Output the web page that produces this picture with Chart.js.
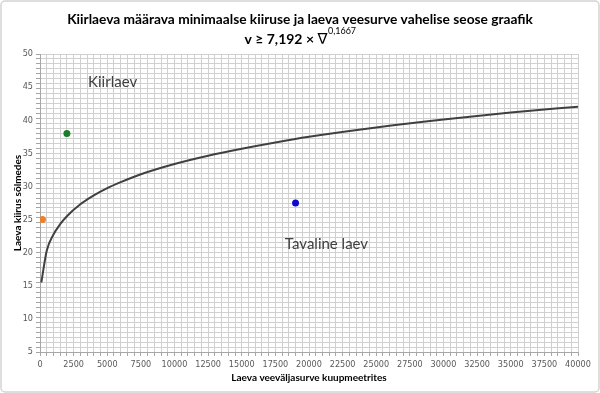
<!DOCTYPE html>
<html lang="et">
<head>
<meta charset="UTF-8">
<title>Kiirlaeva graafik</title>
<script src="https://cdn.jsdelivr.net/npm/chart.js@4"></script>
<style>
  body { margin: 0; background: #fff; }
  #wrap { width: 600px; height: 393px; }
</style>
</head>
<body>
<div id="wrap"><canvas id="chart" width="600" height="393"></canvas></div>
<script>
// curve v >= 7,192 * D^0,1667
const curveX = [100, 500, 1000, 1500, 2000, 3000, 4000, 5000, 6000, 7500, 10000, 12500, 15000, 17500, 20000, 25000, 30000, 35000, 40000];
const curveV = [15.5, 20.3, 22.75, 24.3, 25.5, 27.3, 28.65, 29.75, 30.65, 31.85, 33.4, 34.65, 35.7, 36.65, 37.5, 38.9, 40.1, 41.15, 42.05];

// the three single ships
const shipX = [180, 2000, 19000];
const shipV = [25, 38, 27.5];

// axis ticks
const xLabelStep = 2500;
const xGridStep = 500;
const yLabels = [5, 10, 15, 20, 25, 30, 35, 40, 45, 50];
const yGridStep = 0.75;

const title1 = 'Kiirlaeva määrava minimaalse kiiruse ja laeva veesurve vahelise seose graafik';
const title2 = 'v ≥ 7,192 × ';
const title2sym = '∇';
const title2exp = '0,1667';
const yTitle = 'Laeva kiirus sõlmedes';
const xTitle = 'Laeva veeväljasurve kuupmeetrites';
const regionNames = ['Kiirlaev', 'Tavaline laev'];
const regionX = [5400, 21300];
const regionV = [45.8, 21.3];

const shipColors = ['#ee7d2c', '#1a7f2a', '#0a0ad0'];
const gridColor = '#d0d0d0';
const tickFont = '"Liberation Sans Narrow", "Arial Narrow", "DejaVu Sans Condensed", sans-serif';
const textFont = 'Lato, "Open Sans", sans-serif';

function onYGrid(v) {
  const k = (v - yLabels[0]) / yGridStep;
  return Math.abs(k - Math.round(k)) < 1e-6;
}

// fit a string to a width by font size
function fitFont(ctx, text, weight, family, width) {
  ctx.font = weight + ' 20px ' + family;
  const s = 20 * width / ctx.measureText(text).width;
  return weight + ' ' + s.toFixed(2) + 'px ' + family;
}

const decorations = {
  id: 'decorations',
  beforeDraw(chart) {
    const ctx = chart.ctx;
    ctx.save();
    ctx.fillStyle = '#fff';
    ctx.fillRect(0, 0, chart.width, chart.height);
    ctx.strokeStyle = '#d4d4d4';
    ctx.lineWidth = 1.5;
    ctx.beginPath();
    ctx.roundRect(1, 1, chart.width - 2, chart.height - 2, 4);
    ctx.stroke();
    ctx.restore();
  },
  afterDatasetsDraw(chart) {
    const ctx = chart.ctx;
    const xs = chart.scales.x, ys = chart.scales.y;
    ctx.save();
    ctx.textBaseline = 'alphabetic';
    ctx.fillStyle = '#000';

    // title line 1
    ctx.textAlign = 'center';
    ctx.font = fitFont(ctx, title1, 'bold', textFont, 466);
    ctx.fillText(title1, 300, 23.5);

    // title line 2 with exponent
    ctx.textAlign = 'left';
    ctx.font = 'bold 14px ' + textFont;
    const w1 = ctx.measureText(title2).width;
    ctx.font = '15px "DejaVu Sans", sans-serif';
    const w2 = ctx.measureText(title2sym).width;
    ctx.font = '9px ' + textFont;
    const w3 = ctx.measureText(title2exp).width;
    let x0 = 300 - (w1 + w2 + w3) / 2;
    ctx.font = 'bold 14px ' + textFont;
    ctx.fillText(title2, x0, 44);
    ctx.font = '15px "DejaVu Sans", sans-serif';
    ctx.fillText(title2sym, x0 + w1, 44);
    ctx.font = '9px ' + textFont;
    ctx.fillText(title2exp, x0 + w1 + w2 + 0.5, 34);

    // axis titles
    ctx.textAlign = 'center';
    ctx.textBaseline = 'middle';
    ctx.font = 'bold 10px ' + textFont;
    ctx.fillText(xTitle, (chart.chartArea.left + chart.chartArea.right) / 2, 378);
    ctx.save();
    ctx.translate(18, (chart.chartArea.top + chart.chartArea.bottom) / 2);
    ctx.rotate(-Math.PI / 2);
    ctx.fillText(yTitle, 0, 0);
    ctx.restore();

    // region names
    ctx.fillStyle = '#404040';
    ctx.font = '15px ' + textFont;
    regionNames.forEach((name, i) => {
      ctx.fillText(name, xs.getPixelForValue(regionX[i]), ys.getPixelForValue(regionV[i]));
    });
    ctx.restore();
  }
};

const curveData = curveX.map((x, i) => ({ x: x, y: curveV[i] }));
const shipSets = shipX.map((x, i) => ({
  data: [{ x: x, y: shipV[i] }],
  backgroundColor: shipColors[i],
  borderColor: shipColors[i],
  pointRadius: 3.5,
  pointBorderWidth: 0
}));

new Chart(document.getElementById('chart'), {
  type: 'scatter',
  data: {
    datasets: [{
      data: curveData,
      showLine: true,
      borderColor: '#404040',
      borderWidth: 2,
      pointRadius: 0,
      cubicInterpolationMode: 'monotone'
    }].concat(shipSets)
  },
  options: {
    responsive: false,
    animation: false,
    devicePixelRatio: 1,
    layout: { padding: { left: 6, right: 22, top: 54, bottom: 8 } },
    plugins: { legend: { display: false }, tooltip: { enabled: false } },
    scales: {
      x: {
        type: 'linear',
        min: 0,
        max: 40000,
        afterFit: s => { s.height = 33; },
        border: { color: '#a6a6a6' },
        grid: { color: gridColor, tickLength: 4, tickColor: '#a6a6a6' },
        ticks: {
          stepSize: xGridStep,
          autoSkip: false,
          maxRotation: 0,
          padding: 3,
          color: '#595959',
          font: { family: tickFont, size: 9 },
          callback: v => (v % xLabelStep === 0 ? String(v) : '')
        }
      },
      y: {
        type: 'linear',
        min: yLabels[0],
        max: yLabels[yLabels.length - 1],
        afterFit: s => { s.width = 34; },
        afterBuildTicks: s => {
          const vals = [];
          const lo = yLabels[0], hi = yLabels[yLabels.length - 1];
          for (let k = 0; lo + k * yGridStep <= hi + 1e-6; k++) vals.push(+(lo + k * yGridStep).toFixed(3));
          yLabels.forEach(v => { if (!vals.includes(v)) vals.push(v); });
          vals.sort((a, b) => a - b);
          s.ticks = vals.map(v => ({ value: v }));
        },
        border: { color: '#a6a6a6' },
        grid: {
          color: c => (onYGrid(c.tick.value) ? gridColor : 'transparent'),
          tickColor: c => (onYGrid(c.tick.value) ? '#a6a6a6' : 'transparent'),
          tickLength: 4
        },
        ticks: {
          autoSkip: false,
          padding: 3,
          color: '#595959',
          font: { family: tickFont, size: 9 },
          callback: v => (yLabels.includes(v) ? String(v) : '')
        }
      }
    }
  },
  plugins: [decorations]
});
</script>
</body>
</html>
